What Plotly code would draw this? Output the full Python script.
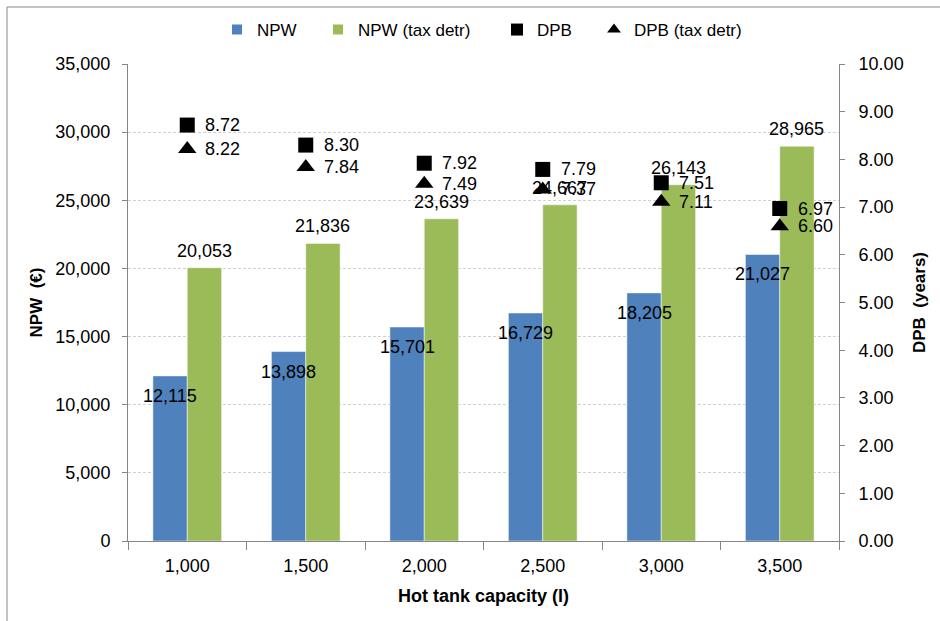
import plotly.graph_objects as go

categories = ["1,000", "1,500", "2,000", "2,500", "3,000", "3,500"]
npw = [12115, 13898, 15701, 16729, 18205, 21027]
npw_tax = [20053, 21836, 23639, 24667, 26143, 28965]
dpb = [8.72, 8.30, 7.92, 7.79, 7.51, 6.97]
dpb_tax = [8.22, 7.84, 7.49, 7.37, 7.11, 6.60]

FONT = "Liberation Sans"
BLUE = "#4F81BD"
GREEN = "#9BBB59"
AXIS = "#868686"

L, R, T, B = 128, 101, 64, 80
W, H = 940, 621
PW, PH = W - L - R, H - T - B


def px_x(p):
    return (p - L) / PW


def px_y(p):
    return (H - B - p) / PH


fig = go.Figure()
fig.add_trace(go.Bar(name="NPW", x=categories, y=npw, marker_color=BLUE,
                     marker_line=dict(color="#ffffff", width=0.5), legend="legend"))
fig.add_trace(go.Bar(name="NPW (tax detr)", x=categories, y=npw_tax, marker_color=GREEN,
                     marker_line=dict(color="#ffffff", width=0.5), legend="legend2"))
fig.add_trace(go.Scatter(name="DPB", x=categories, y=dpb, yaxis="y2", mode="markers",
                         marker=dict(symbol="square", size=15, color="black"), legend="legend3"))
fig.add_trace(go.Scatter(name="DPB (tax detr)", x=categories, y=dpb_tax, yaxis="y2", mode="markers",
                         marker=dict(symbol="triangle-up", size=16, color="black"), legend="legend4"))

lab_font = dict(family=FONT, size=18, color="black")
annotations = []
for c, v in zip(categories, npw):
    annotations.append(dict(x=c, y=v, xref="x", yref="y", text=f"{v:,}", showarrow=False,
                            xshift=-17, yshift=-20, yanchor="middle", font=lab_font))
for c, v in zip(categories, npw_tax):
    annotations.append(dict(x=c, y=v, xref="x", yref="y", text=f"{v:,}", showarrow=False,
                            xshift=17, yshift=17, yanchor="middle", font=lab_font))
for c, v in zip(categories, dpb):
    annotations.append(dict(x=c, y=v, xref="x", yref="y2", text=f"{v:.2f}", showarrow=False,
                            xshift=16, xanchor="left", yanchor="middle", font=lab_font))
for c, v in zip(categories, dpb_tax):
    annotations.append(dict(x=c, y=v, xref="x", yref="y2", text=f"{v:.2f}", showarrow=False,
                            xshift=16, xanchor="left", yanchor="middle", font=lab_font))

leg_common = dict(orientation="h", xanchor="left", yanchor="middle", y=px_y(30),
                  font=dict(family=FONT, size=17, color="black"), itemsizing="constant",
                  bgcolor="rgba(0,0,0,0)", borderwidth=0)

fig.update_layout(
    width=W, height=H,
    margin=dict(l=L, r=R, t=T, b=B),
    paper_bgcolor="white", plot_bgcolor="white",
    font=dict(family=FONT, size=17, color="black"),
    barmode="group", bargap=0.42, bargroupgap=0,
    showlegend=True,
    legend=dict(x=px_x(217), **leg_common),
    legend2=dict(x=px_x(318), **leg_common),
    legend3=dict(x=px_x(497), **leg_common),
    legend4=dict(x=px_x(594), **leg_common),
    xaxis=dict(type="category", showline=True, linecolor=AXIS, linewidth=1,
               ticks="outside", tickson="boundaries", ticklen=8, tickcolor=AXIS,
               ticklabelstandoff=8,
               tickfont=dict(family=FONT, size=18, color="black"),
               title=dict(text="<b>Hot tank capacity (l)</b>", font=dict(family=FONT, size=18), standoff=14),
               showgrid=False, zeroline=False),
    yaxis=dict(range=[0, 35000], dtick=5000, tickformat=",", showline=True, linecolor=AXIS,
               ticks="outside", ticklen=5, tickcolor=AXIS, ticklabelstandoff=8,
               showgrid=True, gridcolor="#D0D0D0", griddash="3px,2px", gridwidth=1, zeroline=False,
               tickfont=dict(family=FONT, size=18, color="black"),
               title=dict(text="<b>NPW  (€)</b>", font=dict(family=FONT, size=17), standoff=8)),
    yaxis2=dict(range=[0, 10], dtick=1, tickformat=".2f", overlaying="y", side="right",
                showline=True, linecolor=AXIS, ticks="outside", ticklen=5, tickcolor=AXIS,
                ticklabelstandoff=10, showgrid=False, zeroline=False,
                tickfont=dict(family=FONT, size=18, color="black"),
                title=dict(text="<b>DPB  (years)</b>", font=dict(family=FONT, size=17), standoff=10)),
    annotations=annotations,
    shapes=[
        dict(type="line", xref="paper", yref="paper", x0=px_x(7), x1=px_x(7),
             y0=px_y(7), y1=px_y(630), line=dict(color="#8a8a8a", width=1)),
        dict(type="line", xref="paper", yref="paper", x0=px_x(7), x1=px_x(950),
             y0=px_y(7), y1=px_y(7), line=dict(color="#8a8a8a", width=1)),
    ],
)

fig.write_html("out.html", config={"displayModeBar": False},
               post_script="document.body.style.margin='0px';")
